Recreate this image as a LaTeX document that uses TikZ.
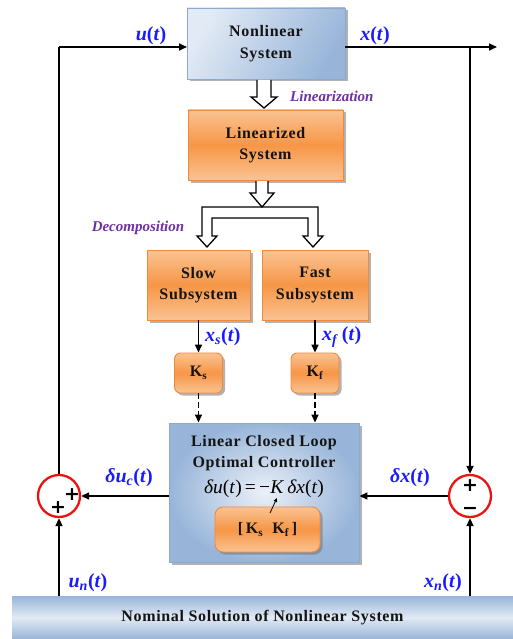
\documentclass[tikz,border=0pt]{standalone}
\usepackage{fontspec}
\setmainfont{Liberation Serif}
\newfontfamily\spacedfont{Liberation Serif}[LetterSpace=4]
\newfontfamily\symfont{DejaVu Sans}
\usetikzlibrary{arrows.meta,shadows,calc}

\definecolor{bluelight}{HTML}{E2EAF5}
\definecolor{bluedark}{HTML}{98B5D9}
\definecolor{blueedge}{HTML}{8CA9D0}
\definecolor{orlight}{HTML}{FAC393}
\definecolor{ormid}{HTML}{F79646}
\definecolor{oredge}{HTML}{EE8A3C}
\definecolor{lblue}{HTML}{1A1AFF}
\definecolor{lpurple}{HTML}{7030A0}
\definecolor{sumred}{HTML}{EE1111}

\tikzset{
  shad/.style={drop shadow={shadow xshift=2.5pt,shadow yshift=-2.5pt,fill=black!55,opacity=0.55}},
  bluebox/.style={draw=blueedge,line width=0.9pt,shad,left color=bluelight,right color=bluedark,shading angle=60},
  ctrlbox/.style={draw=blueedge,line width=0.9pt,shad,inner color=bluelight!70!white,outer color=bluedark,shading=radial},
  nombox/.style={top color=bluedark,bottom color=bluedark,middle color=bluelight},
  orbox/.style={draw=oredge,line width=0.9pt,shad,top color=orlight,bottom color=orlight,middle color=ormid},
  boxtext/.style={font=\spacedfont\bfseries\fontsize{16}{21.5}\selectfont,align=center,text=black!92},
  lab/.style={font=\bfseries\fontsize{20}{22}\selectfont,text=lblue,inner sep=0pt},
  plab/.style={font=\bfseries\itshape\fontsize{15}{17}\selectfont,text=lpurple,inner sep=0pt},
  conn/.style={line width=1.6pt,-{Triangle[length=8pt,width=7pt]}},
  dconn/.style={line width=1.6pt,dash pattern=on 6pt off 3pt,-{Triangle[length=8pt,width=7pt]}},
  line/.style={line width=1.6pt},
  hollow/.style={draw=black,line width=1.3pt,fill=white,line join=miter},
  sumc/.style={circle,draw=sumred,line width=2.3pt,minimum size=42pt,inner sep=0pt},
  sgn/.style={font=\symfont\bfseries\fontsize{19}{19}\selectfont,inner sep=0pt}
}

\begin{document}
\begin{tikzpicture}[x=1pt,y=-1pt]
\useasboundingbox (0,0) rectangle (513,639);

% boxes
\node[bluebox,boxtext,minimum width=158pt,minimum height=71pt] (nl) at (266,43.5) {Nonlinear\\System};
\node[orbox,boxtext,minimum width=155pt,minimum height=70pt] (lin) at (265.5,145) {Linearized\\System};
\node[orbox,boxtext,minimum width=103pt,minimum height=70pt] (slow) at (198.5,285) {Slow\\Subsystem};
\node[orbox,boxtext,minimum width=106pt,minimum height=70pt] (fast) at (315,285) {Fast\\Subsystem};
\node[orbox,boxtext,rounded corners=6pt,minimum width=48pt,minimum height=40pt] (ks) at (198.5,373) {K\textsubscript{s}};
\node[orbox,boxtext,rounded corners=6pt,minimum width=48pt,minimum height=40pt] (kf) at (315,373) {K\textsubscript{f}};
\node[ctrlbox,minimum width=190pt,minimum height=139pt] (ctrl) at (264,492.5) {};
\node[boxtext] (ct1) at (264,453) {Linear Closed Loop\\Optimal Controller};
\node[font=\fontsize{19.5}{21}\selectfont,inner sep=0pt] (eq) at (264,489) {\textit{δu}(\textit{t})\,=\,−\textit{K}\,\textit{δx}(\textit{t})};
\node[orbox,boxtext,rounded corners=8pt,minimum width=105pt,minimum height=45pt] (kk) at (267.5,529.5) {[\,K\textsubscript{s}\ \ K\textsubscript{f}\,]};
\fill[nombox] (12,596) rectangle (513,639);
\node[boxtext] (nom) at (262.5,618) {Nominal Solution of Nonlinear System};
\coordinate (nomtop) at (262.5,596);

% summing junctions
\node[sumc] (sl) at (59,496) {};
\node[sumc] (sr) at (470,496) {};
\node[sgn] (sl1) at (72,495) {+};
\node[sgn] (sl2) at (58,508) {+};
\node[sgn] (sr1) at (470,486) {+};
\node[sgn] (sr2) at (470,511) {−};

% coordinates
\coordinate (ucorner) at (59,47);
\coordinate (uin) at (187,47);
\coordinate (xout) at (345,47);
\coordinate (xend) at (497,47);
\coordinate (xcorner) at (470,47);
\coordinate (kfrom) at (270,513);
\coordinate (kto) at (277,498);

% main connectors
\draw[line] (sl.north) -- (ucorner);
\draw[conn] (ucorner) -- (uin);
\draw[conn] (xout) -- (xend);
\draw[conn] (xcorner) -- (sr.north);
\draw[conn] (slow.south) -- (ks.north);
\draw[conn] (fast.south) -- (kf.north);
\draw[dconn] (ks.south) -- (ks.south |- ctrl.north);
\draw[dconn] (kf.south) -- (kf.south |- ctrl.north);
\draw[conn] (ctrl.west |- sl.east) -- (sl.east);
\draw[conn] (sr.west) -- (sr.west -| ctrl.east);
\draw[conn] (nomtop -| sl.south) -- (sl.south);
\draw[conn] (nomtop -| sr.south) -- (sr.south);
\draw[line width=0.8pt,-{Triangle[length=4pt,width=3.5pt]}] (kfrom) -- (kto);

% hollow arrows
\draw[hollow] (257,80) -- (257,97) -- (251,97) -- (264,108) -- (277,97) -- (271,97) -- (271,80);
\draw[hollow] (207,247) -- (197,236) -- (202,236) -- (202,207) -- (318,207) -- (318,236) -- (323,236)
   -- (313,247) -- (303,236) -- (308,236) -- (308,218) -- (212,218) -- (212,236) -- (217,236) -- cycle;
\draw[hollow] (256,181) -- (256,193) -- (250,193) -- (262,207) -- (274,193) -- (268,193) -- (268,181);

% labels
\node[lab] (lu) at (151,36) {\textit{u}(\textit{t})};
\node[lab] (lx) at (375,36) {\textit{x}(\textit{t})};
\node[plab,anchor=west] (llin) at (290,96) {Linearization};
\node[plab] (ldec) at (138,228) {Decomposition};
\node[lab,anchor=west] (lxs) at (205,337) {\textit{x}\textsubscript{\textit{s}}(\textit{t})};
\node[lab,anchor=west] (lxf) at (322,337) {\textit{x}\textsubscript{\textit{f}}\,(\textit{t})};
\node[lab] (ldu) at (129,478) {\textit{δu}\textsubscript{\textit{c}}(\textit{t})};
\node[lab] (ldx) at (410,478) {\textit{δx}(\textit{t})};
\node[lab] (lun) at (88,583) {\textit{u}\textsubscript{\textit{n}}(\textit{t})};
\node[lab] (lxn) at (443,583) {\textit{x}\textsubscript{\textit{n}}(\textit{t})};
\end{tikzpicture}
\end{document}
